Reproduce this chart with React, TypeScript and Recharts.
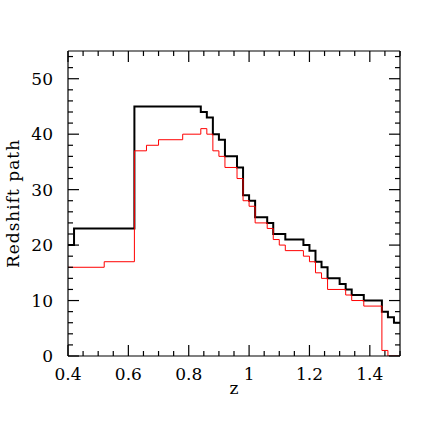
import React from 'react';
import { LineChart, Line, XAxis, YAxis } from 'recharts';

// bin left edges (z) and redshift path per bin
const blackEdges = [0.40, 0.42, 0.62, 0.84, 0.86, 0.88, 0.90, 0.92, 0.96, 0.98, 1.00, 1.02, 1.06, 1.08, 1.12, 1.18, 1.20, 1.22, 1.24, 1.26, 1.30, 1.32, 1.34, 1.38, 1.44, 1.46, 1.48];
const blackValues = [20, 23, 45, 44, 43, 40, 39, 36, 34, 29, 28, 25, 24, 22, 21, 20, 19, 17, 16, 14, 13, 12, 11, 10, 8, 7, 6];

const redEdges = [0.40, 0.52, 0.62, 0.66, 0.70, 0.78, 0.84, 0.86, 0.88, 0.90, 0.92, 0.96, 0.98, 1.00, 1.02, 1.06, 1.08, 1.10, 1.12, 1.18, 1.20, 1.22, 1.24, 1.26, 1.32, 1.34, 1.38, 1.44, 1.46];
const redValues = [16, 17, 37, 38, 39, 40, 41, 40, 37, 36, 34, 32, 28, 27, 24, 23, 21, 20, 19, 18, 17, 15, 14, 12, 11, 10, 9, 1, 0];

const zMin = 0.4;
const zMax = 1.5;
const yMax = 55;

const xTicks = [0.4, 0.45, 0.5, 0.55, 0.6, 0.65, 0.7, 0.75, 0.8, 0.85, 0.9, 0.95, 1.0, 1.05, 1.1, 1.15, 1.2, 1.25, 1.3, 1.35, 1.4, 1.45, 1.5];
const xMajor = [0.4, 0.6, 0.8, 1.0, 1.2, 1.4];
const yTicks = [0, 2, 4, 6, 8, 10, 12, 14, 16, 18, 20, 22, 24, 26, 28, 30, 32, 34, 36, 38, 40, 42, 44, 46, 48, 50, 52, 54];
const yMajor = [0, 10, 20, 30, 40, 50];

const toSteps = (edges: number[], values: number[]) => [
  ...edges.map((z, i) => ({ z, v: values[i] })),
  { z: zMax, v: values[values.length - 1] },
];

const blackData = toSteps(blackEdges, blackValues);
const redData = toSteps(redEdges, redValues);

// chart box
const W = 436;
const H = 436;
const margin = { top: 50, right: 35, bottom: 0, left: 0 };
const bottomH = 80;
const leftW = 68;
const plotTop = margin.top + 1;
const plotBottom = H - bottomH;
const plotLeft = leftW;
const plotRight = W - margin.right - 1;
const px = (z: number) => plotLeft + ((z - zMin) / (zMax - zMin)) * (plotRight - plotLeft);
const py = (v: number) => plotBottom - (v / yMax) * (plotBottom - plotTop);

const font = { fontFamily: '"DejaVu Serif", serif', fontSize: 17, fill: '#000' };

const isMajor = (list: number[], v: number) => list.some((m) => Math.abs(m - v) < 1e-6);
const tickLen = (list: number[], v: number) => (isMajor(list, v) ? 11 : 5);

const topMarks = (props: any) => {
  const x = Number(props.x);
  const y = Number(props.y);
  return <path d={`M${x},${y}V${y + tickLen(xMajor, props.payload.value)}`} stroke="#000" strokeWidth={1.2} fill="none" />;
};

const rightMarks = (props: any) => {
  const x = Number(props.x);
  const y = Number(props.y);
  return <path d={`M${x},${y}H${x - tickLen(yMajor, props.payload.value)}`} stroke="#000" strokeWidth={1.2} fill="none" />;
};

const xLabelTick = (props: any) => {
  const v = props.payload.value as number;
  if (!isMajor(xMajor, v)) return <g />;
  return <text x={Number(props.x)} y={Number(props.y) + 24} textAnchor="middle" {...font}>{String(Math.round(v * 10) / 10)}</text>;
};

const yLabelTick = (props: any) => {
  const v = props.payload.value as number;
  if (!isMajor(yMajor, v)) return <g />;
  return <text x={Number(props.x) - 15} y={Number(props.y) + 6} textAnchor="end" {...font}>{v}</text>;
};

const axisLine = { stroke: '#000', strokeWidth: 1.2 };
const common = { type: 'number' as const, allowDataOverflow: true, interval: 0 as const, tickSize: 0, tickMargin: 0, tickLine: false };

// inward ticks on the bottom and left frame
const FrameTicks = () => (
  <svg width={W} height={H} style={{ position: 'absolute', left: 0, top: 0, pointerEvents: 'none' }}>
    {xTicks.map((z) => (
      <path key={`b${z}`} d={`M${px(z)},${plotBottom}V${plotBottom - tickLen(xMajor, z)}`} stroke="#000" strokeWidth={1.2} fill="none" />
    ))}
    {yTicks.map((v) => (
      <path key={`l${v}`} d={`M${plotLeft},${py(v)}H${plotLeft + tickLen(yMajor, v)}`} stroke="#000" strokeWidth={1.2} fill="none" />
    ))}
  </svg>
);

export default function App() {
  return (
    <div style={{ position: 'absolute', left: 0, top: 0, width: W, height: H, background: '#fff' }}>
      <LineChart width={W} height={H} margin={margin}>
        <XAxis {...common} dataKey="z" domain={[zMin, zMax]} ticks={xTicks} tick={xLabelTick} axisLine={axisLine} height={bottomH}
          label={{ value: 'z', position: 'insideBottom', offset: 42, style: font }} />
        <XAxis {...common} xAxisId="top" orientation="top" dataKey="z" domain={[zMin, zMax]} ticks={xTicks} tick={topMarks} axisLine={axisLine} height={1} />
        <YAxis {...common} domain={[0, yMax]} ticks={yTicks} tick={yLabelTick} axisLine={axisLine} width={leftW}
          label={{ value: 'Redshift path', angle: -90, position: 'insideLeft', offset: 13, style: { ...font, textAnchor: 'middle', letterSpacing: 1 } }} />
        <YAxis {...common} yAxisId="right" orientation="right" domain={[0, yMax]} ticks={yTicks} tick={rightMarks} axisLine={axisLine} width={1} />
        <Line data={blackData} dataKey="v" type="stepAfter" stroke="#000" strokeWidth={2} dot={false} isAnimationActive={false} />
        <Line data={redData} dataKey="v" type="stepAfter" stroke="#ff0000" strokeWidth={1} dot={false} isAnimationActive={false} />
      </LineChart>
      <FrameTicks />
    </div>
  );
}
